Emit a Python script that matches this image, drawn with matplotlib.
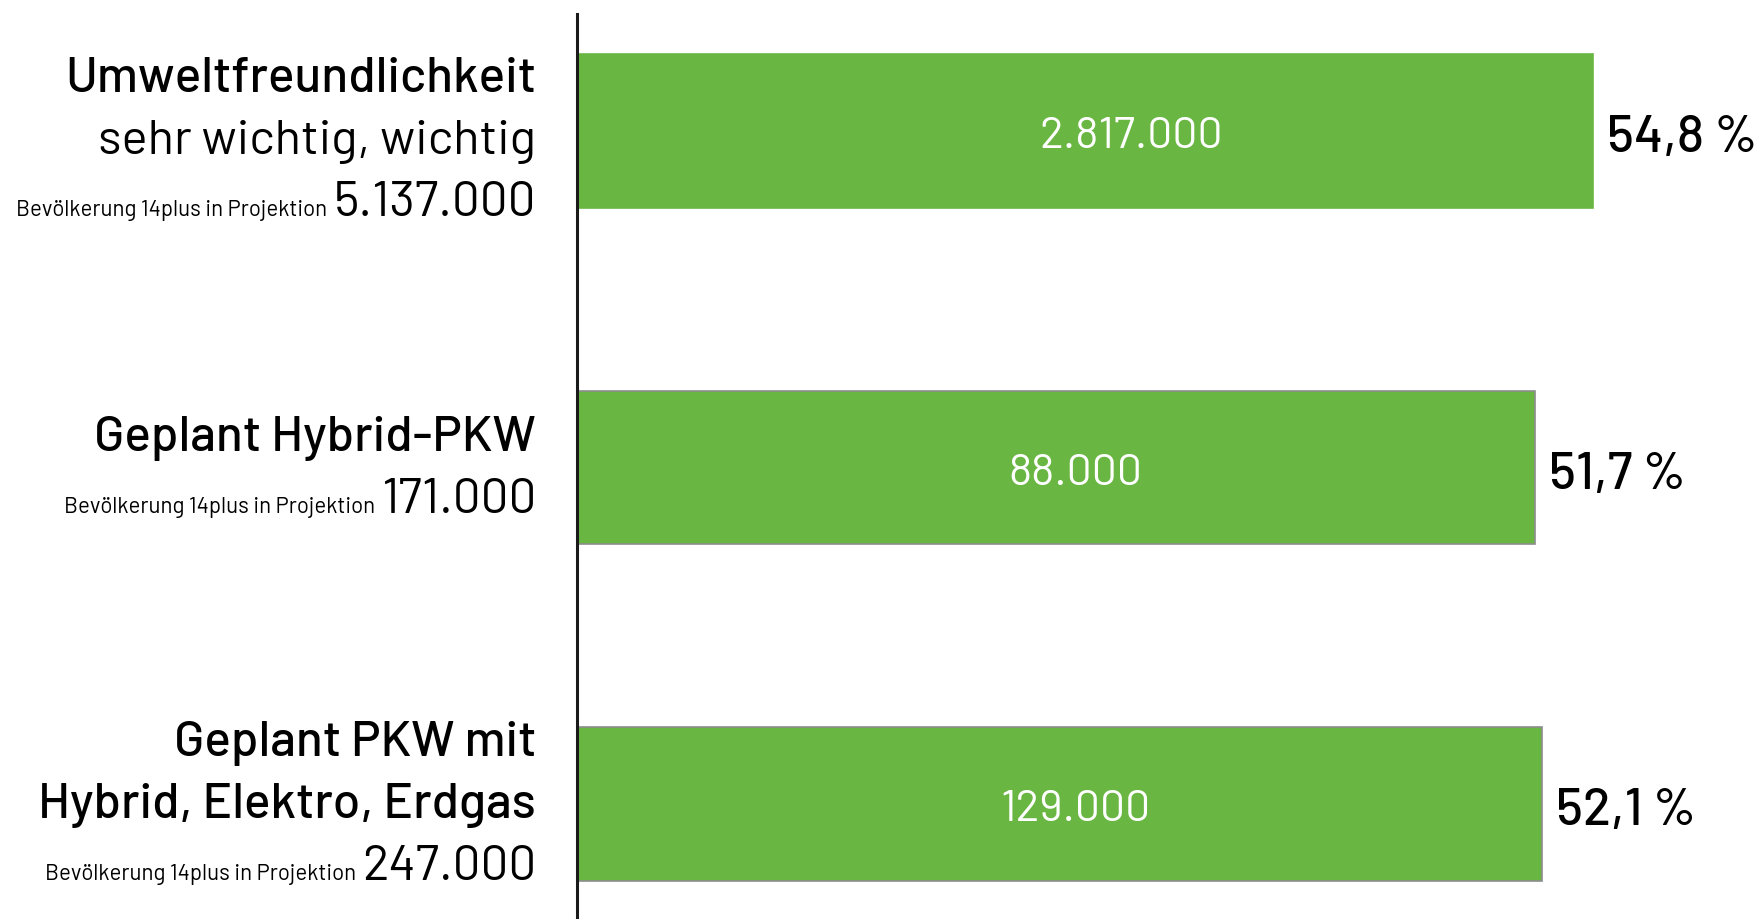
"""Horizontal share bars with stacked left-hand labels."""
import matplotlib.pyplot as plt

# --- data ---
titles = [
    ["Umweltfreundlichkeit"],
    ["Geplant Hybrid-PKW"],
    ["Geplant PKW mit", "Hybrid, Elektro, Erdgas"],
]
subtitles = ["sehr wichtig, wichtig", "", ""]
population = ["5.137.000", "171.000", "247.000"]
counts = ["2.817.000", "88.000", "129.000"]
share_pct = [54.8, 51.7, 52.1]
count_label_x = [29.9, 26.9, 26.9]   # where the white numbers sit inside the bars
pop_caption = "Bevölkerung 14plus in Projektion"

FONT = "Barlow"
GREEN = "#6ab643"
PX = 0.72  # points per pixel at dpi 100
block_shift = [6, -3, -3]  # px nudges of the left label blocks

plt.rcParams["font.family"] = [FONT, "DejaVu Sans"]

fig = plt.figure(figsize=(17.63, 9.19), dpi=100)
ax = fig.add_axes([577 / 1763, 0, 1 - 577 / 1763, 905 / 919])

y = list(range(len(share_pct)))
edges = [GREEN, "#8c8c8c", "#8c8c8c"]
ax.barh(y, share_pct, height=0.457, color=GREEN, edgecolor=edges, linewidth=1.2)
ax.set_xlim(0, 64)
ax.set_ylim(2.341, -0.347)

for side in ("top", "right", "bottom"):
    ax.spines[side].set_visible(False)
ax.spines["left"].set_linewidth(2.2)
ax.spines["left"].set_color("#1a1a1a")
ax.spines["left"].set_zorder(5)
ax.set_xticks([])
ax.set_yticks([])

renderer = fig.canvas.get_renderer()
for i, v in enumerate(share_pct):
    # percentage right of the bar
    ax.annotate(f"{v:.1f}".replace(".", ",") + " %", xy=(v, i),
                xytext=(14 * PX, -21 * PX), textcoords="offset points",
                ha="left", va="baseline", fontsize=37, fontweight=500, color="black")
    # count inside the bar
    ax.annotate(counts[i], xy=(count_label_x[i], i),
                xytext=(0, -17 * PX), textcoords="offset points",
                ha="center", va="baseline", fontsize=32, color="white")

    # left label block, right aligned 43 px left of the axis line
    lines = [(t, 500, 35.7) for t in titles[i]]
    if subtitles[i]:
        lines.append((subtitles[i], 400, 35.2))
    n = len(lines) + 1
    offs = [17 + block_shift[i] + (k - (n - 1) / 2) * 62 for k in range(n)]
    for (txt, w, fs), off in zip(lines, offs):
        ax.annotate(txt, xy=(0, i), xycoords=("axes fraction", "data"),
                    xytext=(-41 * PX, -off * PX), textcoords="offset points",
                    ha="right", va="baseline", fontsize=fs, fontweight=w)
    num = ax.annotate(population[i], xy=(0, i), xycoords=("axes fraction", "data"),
                      xytext=(-41 * PX, -offs[-1] * PX), textcoords="offset points",
                      ha="right", va="baseline", fontsize=35.6, fontweight=400)
    w_px = num.get_window_extent(renderer).width
    ax.annotate(pop_caption, xy=(0, i), xycoords=("axes fraction", "data"),
                xytext=((-41 - w_px - 6) * PX, -offs[-1] * PX), textcoords="offset points",
                ha="right", va="baseline", fontsize=16, fontweight=400)

fig.savefig("out.png", dpi=100)
plt.close(fig)
